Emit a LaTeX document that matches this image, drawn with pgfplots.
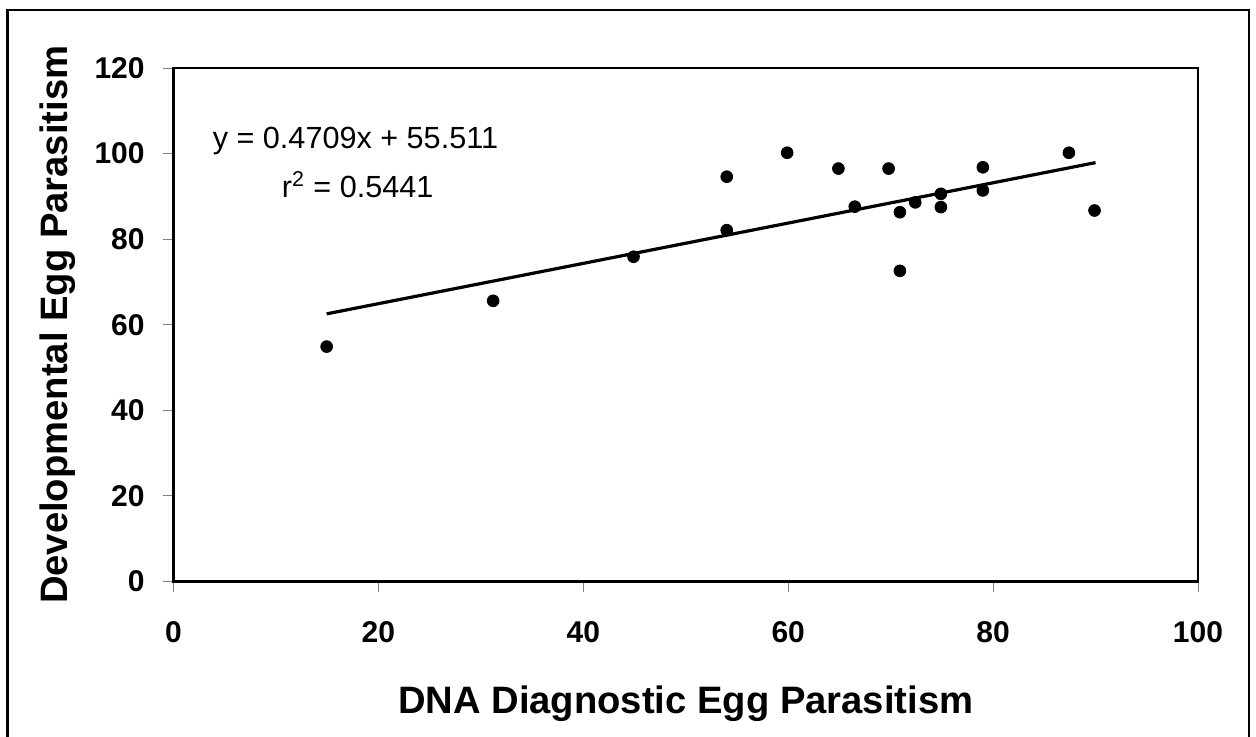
\documentclass[border=0pt]{standalone}
\usepackage{fontspec}
\setmainfont{Liberation Sans}
\usepackage{pgfplots}
\pgfplotsset{compat=1.18}
\pgfplotstableread{
x y
14.95 54.9
31.2 65.6
44.9 75.9
54.0 94.6
54.0 82.1
59.9 100.2
64.9 96.5
69.8 96.5
66.5 87.6
70.9 86.3
70.9 72.6
72.4 88.6
74.9 90.6
74.9 87.5
79.0 96.8
79.0 91.4
87.4 100.2
89.9 86.7
}\scatterdata
\usepackage{pgfplotstable}
\begin{document}
\begin{tikzpicture}
\begin{axis}[
  scale only axis,
  width=512.25pt, height=256.75pt,
  xmin=0, xmax=100, ymin=0, ymax=120,
  xtick={0,20,...,100}, ytick={0,20,...,120},
  tick align=outside, tick pos=left,
  major tick length=5pt,
  every tick/.style={gray, line width=0.5pt},
  axis line style={line width=1.1pt},
  /pgf/number format/assume math mode=true,
  ticklabel style={font=\fontsize{15}{17}\selectfont\bfseries},
  xticklabel style={anchor=base, inner sep=0pt, yshift=-25.25pt},
  yticklabel style={anchor=east, inner sep=0pt, xshift=-9.25pt},
  xlabel={DNA Diagnostic Egg Parasitism},
  ylabel={Developmental Egg Parasitism},
  label style={font=\fontsize{19.1}{22}\selectfont\bfseries},
  xlabel style={at={(axis description cs:0.5,-0.25609)}, anchor=base, inner sep=0pt},
  ylabel style={at={(axis description cs:-0.10298,0.5)}, anchor=base, inner sep=0pt, rotate=0},
  clip=false,
]
\addplot[only marks, mark=*, mark size=2.95pt, black] table[x=x,y=y]{\scatterdata};
\addplot[black, line width=1.6pt, no marks] coordinates {(14.95,62.55) (90.0,97.89)};
\node[anchor=base, font=\fontsize{15.3}{18}\selectfont, inner sep=0pt] at (axis cs:17.76,101.3) {y = 0.4709x + 55.511};
\node[anchor=base, font=\fontsize{15.3}{18}\selectfont, inner sep=0pt] at (axis cs:17.97,89.8) {r\textsuperscript{2} = 0.5441};
\end{axis}
\draw[line width=1.3pt] (-83.1pt,-90pt) -- (-83.1pt,285.75pt) -- (537.75pt,285.75pt) -- (537.75pt,-90pt);
\pgfresetboundingbox
\useasboundingbox (-86.75pt,-77.25pt) rectangle (541.25pt,290.75pt);
\end{tikzpicture}
\end{document}
